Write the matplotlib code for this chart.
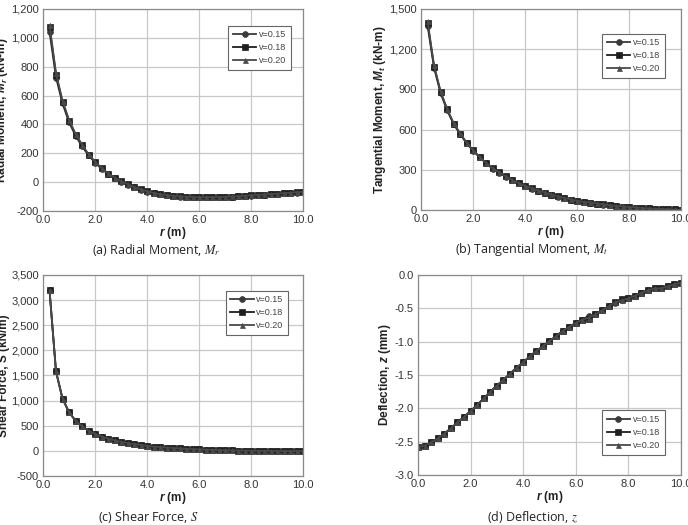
import numpy as np
import matplotlib
matplotlib.use('Agg')
import matplotlib.pyplot as plt
from matplotlib.ticker import FuncFormatter, MultipleLocator

plt.rcParams['font.family'] = ['Liberation Sans', 'DejaVu Sans']
plt.rcParams['mathtext.fontset'] = 'custom'
plt.rcParams['mathtext.rm'] = 'Liberation Sans'
plt.rcParams['mathtext.it'] = 'Liberation Sans:italic'
plt.rcParams['mathtext.bf'] = 'Liberation Sans:bold'
plt.rcParams['mathtext.bfit'] = 'Liberation Sans:bold:italic'

# Data
r = [0.25 * i for i in range(1, 41)]
r_defl = [0.25 * i for i in range(0, 41)]
labels = ['v=0.15', 'v=0.18', 'v=0.20']

mr_15 = [1040, 725, 545, 415, 322, 248, 186, 136, 92, 57, 27, 3, -17, -36, -51,
         -65, -76, -85, -91, -96, -100, -103, -105, -106, -106, -106, -105, -104,
         -101, -99, -96, -93, -90, -87, -84, -81, -78, -75, -72, -69]
mr_18 = [1075, 745, 555, 425, 330, 255, 190, 140, 95, 60, 30, 5, -15, -35, -50,
         -64, -75, -84, -90, -95, -99, -102, -104, -105, -105, -105, -104, -103,
         -100, -98, -95, -92, -89, -86, -83, -80, -77, -74, -71, -68]
mr_20 = [1090, 755, 565, 432, 336, 260, 194, 143, 98, 62, 32, 7, -13, -33, -49,
         -63, -74, -83, -89, -94, -98, -101, -103, -104, -104, -104, -103, -102,
         -99, -97, -94, -91, -88, -85, -82, -79, -76, -73, -70, -67]

mt_15 = [1375, 1060, 873, 745, 642, 566, 498, 442, 393, 349, 309, 278, 249, 223,
         199, 179, 160, 144, 129, 114, 100, 89, 78, 68, 60, 54, 47, 41, 35, 30,
         26, 22, 18, 15, 12, 10, 8, 6, 4, 2]
mt_18 = [1395, 1070, 880, 750, 645, 570, 500, 445, 395, 350, 310, 280, 250, 225,
         200, 180, 161, 145, 130, 115, 101, 90, 78, 68, 60, 55, 48, 42, 36, 30,
         26, 22, 18, 15, 12, 10, 8, 6, 4, 2]
mt_20 = [1410, 1078, 886, 755, 649, 573, 503, 447, 397, 352, 311, 281, 251, 226,
         201, 181, 162, 146, 131, 116, 102, 91, 79, 69, 61, 56, 49, 42, 36, 31,
         27, 23, 19, 15, 12, 10, 8, 6, 4, 2]

sf_15 = [3200, 1580, 1040, 770, 600, 490, 400, 340, 285, 245, 210, 180, 155, 135,
         120, 100, 85, 75, 65, 58, 50, 42, 35, 30, 25, 20, 15, 12, 10, 7, 5, 3,
         1, 0, -1, -2, -3, -3, -4, -5]
sf_18 = sf_15
sf_20 = sf_15

z_15 = [-2.58, -2.56, -2.51, -2.45, -2.38, -2.30, -2.21, -2.13, -2.04, -1.95,
        -1.85, -1.75, -1.66, -1.57, -1.48, -1.39, -1.31, -1.22, -1.14, -1.07,
        -0.99, -0.92, -0.84, -0.78, -0.72, -0.67, -0.61, -0.59, -0.53, -0.47,
        -0.42, -0.37, -0.35, -0.31, -0.27, -0.23, -0.20, -0.20, -0.17, -0.14,
        -0.12]
z_18 = [-2.58, -2.56, -2.51, -2.45, -2.38, -2.30, -2.21, -2.13, -2.04, -1.95,
        -1.85, -1.75, -1.66, -1.57, -1.48, -1.39, -1.31, -1.22, -1.14, -1.07,
        -0.99, -0.92, -0.84, -0.78, -0.72, -0.67, -0.66, -0.59, -0.53, -0.47,
        -0.41, -0.36, -0.35, -0.31, -0.27, -0.23, -0.20, -0.20, -0.17, -0.14,
        -0.12]
z_20 = [-2.58, -2.56, -2.51, -2.45, -2.38, -2.30, -2.21, -2.13, -2.04, -1.95,
        -1.85, -1.75, -1.66, -1.57, -1.48, -1.39, -1.31, -1.22, -1.14, -1.07,
        -0.99, -0.92, -0.84, -0.78, -0.72, -0.67, -0.64, -0.59, -0.53, -0.47,
        -0.41, -0.38, -0.35, -0.31, -0.27, -0.23, -0.20, -0.20, -0.17, -0.14,
        -0.12]

panels = [
    # rect, x, series, ylim, ystep, fmt, ylabel, caption, legend loc/anchor, caption xy
    ([0.0625, 0.598, 0.378, 0.385], r, (mr_15, mr_18, mr_20), (-200, 1200), 200,
     'int', r'Radial Moment, $\mathbfit{M}_{\mathbfit{r}}$ (kN-m)',
     r'(a) Radial Moment, $M_r$', ('upper right', (0.97, 0.94)), (156, 250)),
    ([0.612, 0.600, 0.378, 0.383], r, (mt_15, mt_18, mt_20), (0, 1500), 300,
     'int', r'Tangential Moment, $\mathbfit{M}_{\mathbfit{t}}$ (kN-m)',
     r'(b) Tangential Moment, $M_t$', ('upper right', (0.955, 0.9)), (532, 250)),
    ([0.0625, 0.0933, 0.378, 0.383], r, (sf_15, sf_18, sf_20), (-500, 3500), 500,
     'int', 'Shear Force, S (kN/m)',
     r'(c) Shear Force, $S$', ('upper right', (0.96, 0.945)), (148, 517)),
    ([0.6076, 0.0952, 0.382, 0.381], r_defl, (z_15, z_18, z_20), (-3.0, 0.0), 0.5,
     'float', r'Deflection, $\mathbfit{z}$ (mm)',
     r'(d) Deflection, $z$', ('lower right', (0.955, 0.08)), (532, 517)),
]

markers = ['o', 's', '^']
msizes = [4.2, 4.3, 3.6]
colors = ['#3a3a3a', '#1e1e1e', '#4a4a4a']

fig = plt.figure(figsize=(6.88, 5.25), dpi=100)

for rect, x, series, ylim, ystep, fmt, ylabel, caption, leg, cap_xy in panels:
    ax = fig.add_axes(rect)
    for ys, m, ms, c, lab in zip(series, markers, msizes, colors, labels):
        ax.plot(x, ys, marker=m, markersize=ms, color=c, lw=1.3, label=lab,
                markeredgewidth=0.5)
    ax.set_xlim(0, 10)
    ax.set_ylim(*ylim)
    ax.xaxis.set_major_locator(MultipleLocator(2))
    ax.yaxis.set_major_locator(MultipleLocator(ystep))
    ax.xaxis.set_major_formatter(FuncFormatter(lambda v, p: f'{v:.1f}'))
    if fmt == 'int':
        ax.yaxis.set_major_formatter(FuncFormatter(lambda v, p: f'{v:,.0f}'))
    else:
        ax.yaxis.set_major_formatter(FuncFormatter(lambda v, p: f'{v:.1f}'))
    ax.grid(True, color='#c8c8c8', lw=0.9)
    ax.set_axisbelow(True)
    for s in ax.spines.values():
        s.set_color('#8a8a8a')
        s.set_linewidth(0.9)
    ax.tick_params(length=0, labelsize=8, colors='#333333', pad=3)
    ax.set_xlabel(r'$\mathbfit{r}$ (m)', fontsize=8.5, fontweight='bold',
                  color='#222222', labelpad=0)
    ax.set_ylabel(ylabel, fontsize=8.5, fontweight='bold', color='#222222',
                  labelpad=1)
    lg = ax.legend(loc=leg[0], bbox_to_anchor=leg[1], fontsize=6.5,
                   fancybox=False, edgecolor='#666666', framealpha=1,
                   handlelength=2.6, borderpad=0.5, labelspacing=0.45,
                   handletextpad=0.3)
    lg.get_frame().set_linewidth(0.8)
    for t in lg.get_texts():
        t.set_color('#444444')
    fig.text(cap_xy[0] / 688, 1 - cap_xy[1] / 525, caption, ha='center',
             va='center', fontsize=9, family='Open Sans', color='#222222',
             math_fontfamily='stix')

fig.savefig('out.png', dpi=100)
